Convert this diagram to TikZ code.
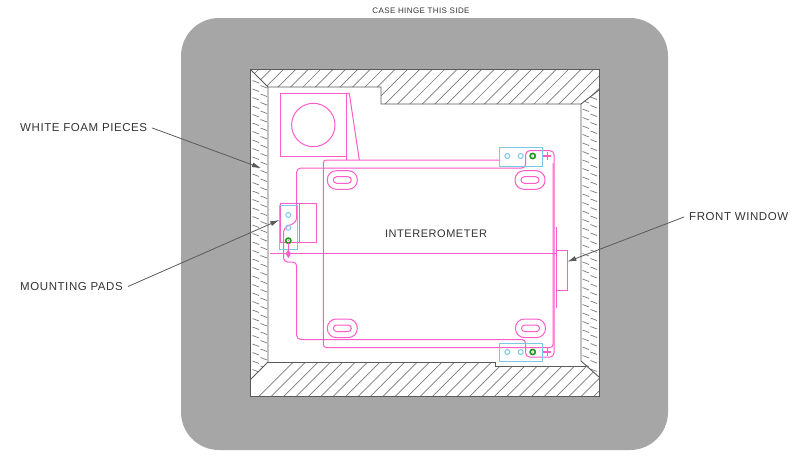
\documentclass[tikz,border=0pt]{standalone}
\usepackage{fontspec}
\setmainfont{Liberation Sans}
\newfontfamily\cadfont[LetterSpace=5]{Liberation Sans}
\usetikzlibrary{arrows.meta,positioning}
\definecolor{caseGrey}{HTML}{A6A6A6}
\definecolor{edgeGrey}{HTML}{5A5A5A}
\definecolor{hatchGrey}{HTML}{7A7A7A}
\definecolor{partPink}{HTML}{FF5CCB}
\definecolor{padBlue}{HTML}{7CC8E4}
\definecolor{boltGreen}{HTML}{1FC01F}
\tikzset{
    foamedge/.style={draw=edgeGrey, line width=0.9pt},
    foamhatch/.style={draw=hatchGrey, line width=0.7pt},
    part/.style={draw=partPink, line width=1pt},
    pad/.style={draw=padBlue, line width=1pt},
    calllabel/.style={font=\cadfont\fontsize{11.5}{14}\selectfont, text=black!80, inner sep=3pt},
    leader/.style={draw=edgeGrey, line width=0.8pt, -{Latex[length=9pt,width=5pt]}},
}
\begin{document}
\begin{tikzpicture}[x=1pt, y=-1pt]
    \useasboundingbox (0,0) rectangle (796,463);
    % case and cavity
    \fill[caseGrey, rounded corners=38pt] (181,18) rectangle (668,450);
    \fill[white] (250,69) rectangle (599,396);
    % foam, top
    \begin{scope}
        \clip (250,69) -- (599,69) -- (599,90) -- (581,104) -- (381,104) -- (381,87) -- (268,87) -- cycle;
        \foreach \i in {0,...,32} {
            \draw[foamhatch] (222+12.4*\i,106) -- ++(38,-38);
        }
    \end{scope}
    % foam, bottom
    \begin{scope}
        \clip (250,396) -- (599,396) -- (599,377) -- (586,366) -- (495,366) -- (495,362) -- (268,362) -- (250,380) -- cycle;
        \foreach \i in {0,...,32} {
            \draw[foamhatch] (258.3+12.4*\i,397) -- ++(38,-38);
        }
    \end{scope}
    % foam, sides
    \begin{scope}
        \clip (250,69) -- (268,87) -- (268,362) -- (250,380) -- cycle;
        \foreach \i in {0,...,37} {
            \draw[foamhatch] (252.5,72+8.5*\i) -- ++(6.5,2.5);
            \draw[foamhatch] (260.5,77+8.5*\i) -- ++(6.5,2.5);
        }
    \end{scope}
    \begin{scope}
        \clip (599,90) -- (581,104) -- (581,361) -- (599,377) -- cycle;
        \foreach \i in {0,...,34} {
            \draw[foamhatch] (582.5,92+8.5*\i) -- ++(6.5,2.5);
            \draw[foamhatch] (590.5,97+8.5*\i) -- ++(6.5,2.5);
        }
    \end{scope}
    \draw[foamedge] (250,69) rectangle (599,396);
    \draw[foamedge] (250,69) -- (268,87) -- (381,87) -- (381,104) -- (581,104) -- (581,361) -- (599,377);
    \draw[foamedge] (581,104) -- (599,90);
    \draw[foamedge] (250,380) -- (268,362) -- (268,87);
    \draw[foamedge] (268,362) -- (495,362) -- (495,366) -- (586,366);
    % fan box
    \draw[part] (280.7,93.3) rectangle (346,156.3);
    \draw[part] (313.3,125) circle (21.7);
    \draw[part] (346,93.3) -- (349.3,93.3) -- (359.3,160);
    \draw[part] (346,156.3) -- (346,160);
    % interferometer body
    \draw[part, rounded corners=3pt] (500,160) -- (323.3,160) -- (323.3,347.5) -- (553,347.5) -- (553,163);
    \draw[part, rounded corners=4pt] (296.7,219) -- (296.7,168) -- (525.7,168) -- (525.7,150.7) -- (554,150.7) -- (554,357) -- (525.7,357) -- (525.7,339.5) -- (296.7,339.5) -- (296.7,268);
    \draw[part, rounded corners=4pt] (296.7,214) -- (296.7,222) -- (283.5,228) -- (283.5,262) -- (296.7,262) -- (296.7,272);
    \foreach \sx/\sy in {342.3/180, 530/180, 342.3/328.3, 530.5/328.3} {
        \draw[part, rounded corners=9pt] (\sx-15,\sy-9.3) rectangle (\sx+15,\sy+9.3);
        \draw[part, rounded corners=3.3pt] (\sx-9,\sy-3.3) rectangle (\sx+9,\sy+3.3);
    }
    % front window
    \draw[part] (556.7,226.7) -- (556.7,308);
    \draw[part] (556.7,250) -- (567.3,250) -- (567.3,290) -- (556.7,290);
    \draw[part] (270,253.6) -- (556,253.6);
    % mounting pads
    \draw[part] (280.7,203.3) rectangle (316,242.7);
    \draw[part] (299.3,203.3) -- (299.3,242.7);
    \draw[pad] (279.3,205.7) rectangle (297.3,249.3);
    \draw[pad] (499.3,147.3) rectangle (542.7,166);
    \draw[pad] (499.3,343.3) rectangle (542.7,361.7);
    \foreach \bx/\by in {288.3/215, 288.3/227.7, 507.3/156, 520.7/156, 507.3/352, 520.7/352} {
        \draw[pad] (\bx,\by) circle (2.5);
    }
    \foreach \bx/\by in {288.3/240.7, 532.7/156, 532.7/352} {
        \draw[boltGreen!80!black, line width=1.6pt] (\bx,\by) circle (2.6);
        \fill[partPink] (\bx,\by) circle (0.7);
    }
    \foreach \bx/\by in {547.3/156, 547.3/352} {
        \draw[part, line width=1.2pt] (\bx-4,\by) -- (\bx+4,\by);
        \draw[part, line width=1.2pt] (\bx,\by-4) -- (\bx,\by+4);
    }
    \draw[part] (288.3,243) -- (288.3,258);
    \fill[partPink] (288.3,249.5) -- (291,253.7) -- (288.3,257.9) -- (285.6,253.7) -- cycle;
    % labels
    \node[calllabel, font=\cadfont\fontsize{8}{10}\selectfont] (hingelabel) at (421,11) {CASE HINGE THIS SIDE};
    \node[calllabel, font=\cadfont\fontsize{11}{14}\selectfont] (ifolabel) at (436,234) {INTEREROMETER};
    \node[calllabel, anchor=west, inner sep=0pt] (foamtext) at (20,128) {WHITE FOAM PIECES};
    \node[calllabel, anchor=west, inner sep=0pt] (padtext) at (20,286.5) {MOUNTING PADS};
    \node[calllabel, anchor=west, inner sep=0pt] (windowtext) at (689,217) {FRONT WINDOW};
    % leaders
    \coordinate (foamtip) at (261,168);
    \coordinate (padtip) at (279.3,220);
    \coordinate (windowtip) at (567.3,261.7);
    \draw[leader] ([xshift=5pt]foamtext.east) -- (foamtip);
    \draw[leader] ([xshift=5pt]padtext.east) -- (padtip);
    \draw[leader] ([xshift=-5pt]windowtext.west) -- (windowtip);
\end{tikzpicture}
\end{document}
